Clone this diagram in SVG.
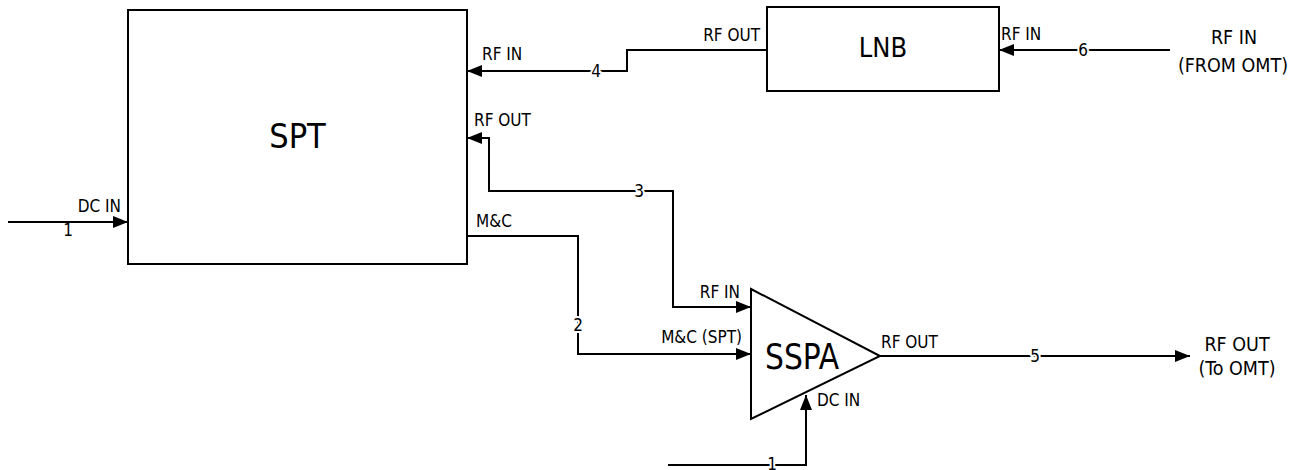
<svg xmlns="http://www.w3.org/2000/svg" width="1297" height="470" viewBox="0 0 1297 470">
<style>
.box{fill:#fff;stroke:#000;stroke-width:2}
.ln{fill:none;stroke:#000;stroke-width:2}
text{font-family:"DejaVu Sans Condensed","DejaVu Sans",sans-serif;fill:#000}
.lb{font-size:17px}
.tm{font-size:19.5px;text-anchor:middle}
.big{font-size:34px}
.num{font-size:17px;text-anchor:middle;stroke:#fff;stroke-width:4px;paint-order:stroke;stroke-linejoin:round}
</style>
<defs>
<marker id="ah" viewBox="0 0 15 12" refX="15" refY="6" markerWidth="15" markerHeight="12" markerUnits="userSpaceOnUse" orient="auto">
<path d="M0,0 L15,6 L0,12 Z" fill="#000"/>
</marker>
</defs>
<g id="spt">
<rect class="box" x="128" y="10" width="339" height="254"/>
<text class="big" x="297.5" y="148" text-anchor="middle">SPT</text>
</g>
<g id="lnb">
<rect class="box" x="767" y="7" width="232" height="84"/>
<text class="big" x="883" y="57" text-anchor="middle" style="font-size:27px">LNB</text>
</g>
<g id="sspa">
<path class="box" d="M751,289 L880,356 L751,419 Z"/>
<text class="big" x="802" y="369" text-anchor="middle" style="font-size:35px" textLength="74" lengthAdjust="spacingAndGlyphs">SSPA</text>
</g>
<g id="connectors">
<path class="ln" d="M8,222 H128" marker-end="url(#ah)"/>
<path class="ln" d="M767,50 H627 V71 H467" marker-end="url(#ah)"/>
<path class="ln" d="M1170,50 H999" marker-end="url(#ah)"/>
<path class="ln" d="M673,307 V191 H489 V138 H467" marker-end="url(#ah)"/>
<path class="ln" d="M489,191 H673 V307 H751" marker-end="url(#ah)"/>
<path class="ln" d="M467,236 H578 V354 H751" marker-end="url(#ah)"/>
<path class="ln" d="M880,356 H1190" marker-end="url(#ah)"/>
<path class="ln" d="M668,465 H806 V395" marker-end="url(#ah)"/>
</g>
<g id="labels">
<text class="lb" x="121" y="212" text-anchor="end">DC IN</text>
<text class="lb" x="68" y="236" text-anchor="middle">1</text>
<text class="lb" x="482" y="60">RF IN</text>
<text class="lb" x="474" y="126">RF OUT</text>
<text class="lb" x="476" y="227">M&amp;C</text>
<text class="lb" x="760" y="41" text-anchor="end">RF OUT</text>
<text class="lb" x="1001" y="40">RF IN</text>
<text class="tm" x="1234" y="44">RF IN</text>
<text class="tm" x="1233" y="72">(FROM OMT)</text>
<text class="lb" x="740" y="298" text-anchor="end">RF IN</text>
<text class="lb" x="742" y="343" text-anchor="end">M&amp;C (SPT)</text>
<text class="lb" x="881" y="348">RF OUT</text>
<text class="lb" x="817" y="406">DC IN</text>
<text class="tm" x="1237" y="351">RF OUT</text>
<text class="tm" x="1237" y="375">(To OMT)</text>
<text class="num" x="596" y="77">4</text>
<text class="num" x="1083" y="56">6</text>
<text class="num" x="639" y="197">3</text>
<text class="num" x="578" y="331">2</text>
<text class="num" x="1035" y="362">5</text>
<text class="num" x="772" y="470">1</text>
</g>
</svg>
